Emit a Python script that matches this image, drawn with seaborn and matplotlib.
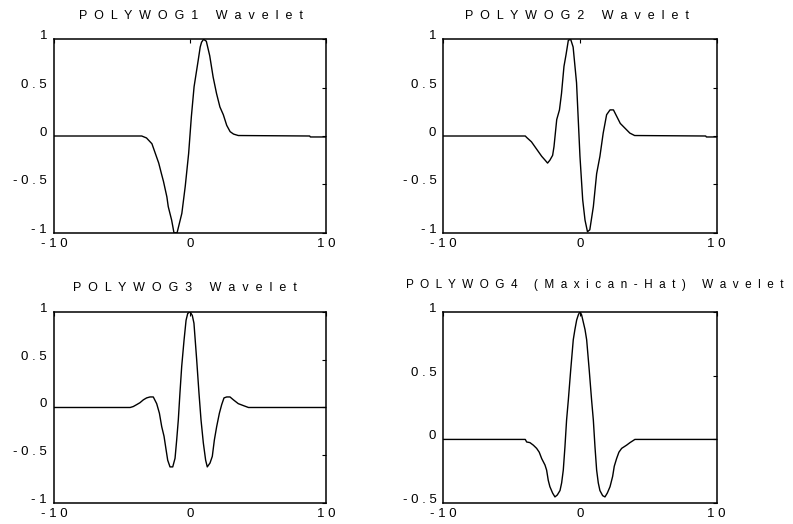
import matplotlib
matplotlib.use("Agg")
import matplotlib.pyplot as plt
import seaborn as sns

sns.set_style("white")
plt.rcParams["font.family"] = ["Liberation Sans", "DejaVu Sans"]

# ---- wavelet samples -------------------------------------------------------
polywog1_x = [-10, -3.55, -3.2, -2.8, -2.55, -2.3, -2.1, -1.95, -1.7, -1.6,
              -1.35, -1.18, -0.95, -0.6, -0.35, -0.1, 0.1, 0.3, 0.6, 0.75,
              0.85, 1.0, 1.2, 1.45, 1.7, 1.95, 2.2, 2.45, 2.7, 2.95,
              3.2, 3.55, 8.8, 8.85, 10]
polywog1_y = [0, 0, -0.02, -0.08, -0.18, -0.28, -0.39, -0.47, -0.63, -0.73,
              -0.87, -1.0, -1.0, -0.80, -0.52, -0.18, 0.20, 0.51, 0.78, 0.92,
              0.97, 1.0, 0.98, 0.83, 0.61, 0.44, 0.30, 0.22, 0.11, 0.045,
              0.02, 0.005, 0.0, -0.01, -0.01]

polywog2_x = [-10, -4.0, -3.9, -3.55, -3.3, -3.05, -2.8, -2.55, -2.37, -2.2,
              -2.0, -1.9, -1.7, -1.5, -1.35, -1.17, -1.02, -0.85, -0.68, -0.5,
              -0.25, 0.0, 0.2, 0.37, 0.55, 0.72, 0.98, 1.22, 1.46, 1.7,
              1.95, 2.2, 2.45, 2.7, 2.95, 3.3, 3.65, 4.0, 9.2, 9.25, 10]
polywog2_y = [0, 0, -0.015, -0.06, -0.11, -0.16, -0.21, -0.25, -0.28, -0.25,
              -0.20, -0.11, 0.17, 0.27, 0.44, 0.72, 0.84, 0.99, 1.0, 0.92,
              0.55, -0.21, -0.66, -0.87, -0.99, -0.97, -0.73, -0.39, -0.21, 0.03,
              0.22, 0.27, 0.27, 0.20, 0.13, 0.08, 0.03, 0.005, 0, -0.01, -0.01]

polywog3_x = [-10, -4.4, -4.17, -3.92, -3.68, -3.43, -3.19, -2.94, -2.7, -2.45,
              -2.25, -2.08, -1.91, -1.76, -1.64, -1.47, -1.27, -1.1, -0.98, -0.86,
              -0.74, -0.61, -0.44, -0.29, -0.17, 0, 0.17, 0.29, 0.49, 0.66,
              0.81, 0.98, 1.15, 1.27, 1.47, 1.64, 1.79, 1.96, 2.16, 2.33,
              2.5, 2.7, 2.94, 3.19, 3.55, 3.92, 4.3, 10]
polywog3_y = [0, 0, 0.01, 0.03, 0.05, 0.08, 0.10, 0.11, 0.11, 0.04,
              -0.06, -0.20, -0.30, -0.44, -0.55, -0.62, -0.62, -0.53, -0.34, -0.13,
              0.15, 0.43, 0.70, 0.91, 0.98, 1.0, 0.96, 0.88, 0.50, 0.15,
              -0.13, -0.37, -0.55, -0.62, -0.58, -0.51, -0.34, -0.20, -0.06, 0.03,
              0.10, 0.11, 0.11, 0.08, 0.04, 0.02, 0, 0]

polywog4_x = [-10, -4.0, -3.9, -3.66, -3.41, -3.17, -2.98, -2.8, -2.56, -2.44,
              -2.32, -2.2, -2.0, -1.83, -1.66, -1.46, -1.34, -1.22, -1.1, -0.98,
              -0.85, -0.68, -0.49, -0.37, -0.24, -0.12, 0, 0.12, 0.37, 0.49,
              0.68, 0.85, 0.98, 1.1, 1.22, 1.34, 1.46, 1.66, 1.83, 2.0,
              2.2, 2.39, 2.51, 2.68, 2.85, 3.05, 3.41, 3.66, 4.02, 10]
polywog4_y = [0, 0, -0.02, -0.025, -0.045, -0.07, -0.10, -0.15, -0.20, -0.24,
              -0.32, -0.37, -0.42, -0.45, -0.435, -0.40, -0.34, -0.24, -0.06, 0.15,
              0.31, 0.54, 0.78, 0.86, 0.935, 0.975, 1.0, 0.975, 0.86, 0.78,
              0.54, 0.31, 0.15, -0.06, -0.24, -0.34, -0.40, -0.44, -0.45, -0.42,
              -0.37, -0.29, -0.21, -0.15, -0.10, -0.07, -0.045, -0.025, 0, 0]

titles = ["POLYWOG1 Wavelet", "POLYWOG2 Wavelet",
          "POLYWOG3 Wavelet", "POLYWOG4 (Maxican-Hat) Wavelet"]

x_ticks = [-10, 0, 10]
x_tick_labels = ["-10", "0", "10"]
y_ticks_full = [-1, -0.5, 0, 0.5, 1]
y_tick_labels_full = ["-1", "-0.5", "0", "0.5", "1"]
y_ticks_hat = [-0.5, 0, 0.5, 1]
y_tick_labels_hat = ["-0.5", "0", "0.5", "1"]

series = [(polywog1_x, polywog1_y), (polywog2_x, polywog2_y),
          (polywog3_x, polywog3_y), (polywog4_x, polywog4_y)]
y_limits = [(-1, 1), (-1, 1), (-1, 1), (-0.5, 1)]
y_tick_sets = [(y_ticks_full, y_tick_labels_full)] * 3 + [(y_ticks_hat, y_tick_labels_hat)]


def spread(text, gap):
    """Letter-spaced version of a label."""
    return gap.join(text)


# axes rectangles in figure fractions: left, bottom, width, height
rects = [
    [0.0681, 0.5559, 0.3430, 0.3691],
    [0.5590, 0.5559, 0.3447, 0.3691],
    [0.0681, 0.0395, 0.3430, 0.3657],
    [0.5590, 0.0395, 0.3447, 0.3657],
]
title_pads = [14.5, 14.5, 15.0, 17.0]
title_x = [0.505, 0.49, 0.48, 0.555]
title_sizes = [9, 9, 9, 8.5]

fig = plt.figure(figsize=(7.93, 5.24), dpi=100)
fig.patch.set_facecolor("white")

for i, rect in enumerate(rects):
    ax = fig.add_axes(rect)
    xs, ys = series[i]
    sns.lineplot(x=xs, y=ys, ax=ax, color="black", linewidth=1.0,
                 estimator=None, sort=False)
    ax.set_xlim(-10, 10)
    ax.set_ylim(*y_limits[i])
    ax.set_xticks(x_ticks)
    ax.set_xticklabels([spread(s, " ") for s in x_tick_labels])
    yt, ytl = y_tick_sets[i]
    ax.set_yticks(yt)
    ax.set_yticklabels([spread(s, " ") for s in ytl])
    for lbl in ax.get_yticklabels():
        lbl.set_verticalalignment("baseline")
    ax.tick_params(axis="both", direction="in", length=3, width=0.8,
                   top=True, right=True, labelsize=9.5, colors="black")
    ax.tick_params(axis="y", pad=5)
    ax.tick_params(axis="x", pad=3.5)
    for sp in ax.spines.values():
        sp.set_visible(True)
        sp.set_color("black")
        sp.set_linewidth(1.1)
    ax.set_facecolor("white")
    ax.set_title(spread(titles[i], "  "), fontsize=title_sizes[i],
                 pad=title_pads[i], x=title_x[i], color="black")

fig.savefig("out.png", dpi=100, facecolor="white")
